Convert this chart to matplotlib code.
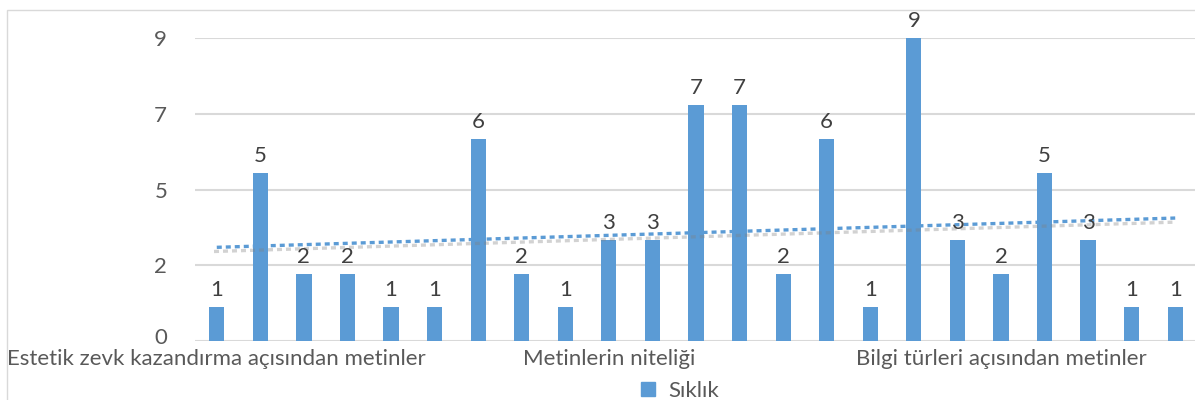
import matplotlib.pyplot as plt
import matplotlib.patheffects as pe
import matplotlib.transforms as mtransforms
from matplotlib.patches import Rectangle
import numpy as np

plt.rcParams['font.family'] = ['Lato', 'DejaVu Sans']

# data
siklik = [1, 5, 2, 2, 1, 1, 6, 2, 1, 3, 3, 7, 7, 2, 6, 1, 9, 3, 2, 5, 3, 1, 1]
group_names = ['Estetik zevk kazandırma açısından metinler',
               'Metinlerin niteliği',
               'Bilgi türleri açısından metinler']
ytick_vals = [0, 2.25, 4.5, 6.75, 9]
ytick_labels = ['0', '2', '5', '7', '9']

blue = '#5B9BD5'
grey_txt = '#595959'
grid_c = '#D9D9D9'

fig = plt.figure(figsize=(11.95, 4), dpi=100)
ax = fig.add_axes([195 / 1195, 59 / 400, 1002 / 1195, 303 / 400])

x = np.arange(len(siklik))
ax.bar(x, siklik, width=0.35, color=blue, zorder=2)

# data labels
for xi, v in zip(x, siklik):
    ax.annotate(str(v), (xi, v), xytext=(0, 5), textcoords='offset points',
                ha='center', va='bottom', fontsize=16, color='#404040',
                clip_on=False, zorder=4)

# linear trend line (dotted, with soft shadow)
k, b = np.polyfit(x, siklik, 1)
trend = k * x + b
ax.plot(x, trend, color=blue, lw=2.4, dashes=[1.5, 1.2],
        solid_capstyle='butt', dash_capstyle='butt', zorder=3,
        path_effects=[pe.SimpleLineShadow(offset=(-2, -3), shadow_color='#808080', alpha=0.35),
                      pe.Normal()])

ax.set_xlim(-0.5, len(siklik) - 0.5)
ax.set_ylim(0, 9)
ax.set_yticks(ytick_vals)
ax.set_yticklabels(ytick_labels)
ax.set_xticks(x[::9])
ax.set_xticklabels(group_names)
ax.tick_params(axis='both', length=0, labelsize=16, colors=grey_txt)
ax.tick_params(axis='y', pad=20)
ax.tick_params(axis='x', pad=6)
ax.yaxis.grid(True, color=grid_c, lw=1.5, zorder=0)
ax.set_axisbelow(True)
for s in ax.spines.values():
    s.set_visible(False)

# nudge the "0" label up a little, as in the original
zero_lbl = ax.get_yticklabels()[0]
zero_lbl.set_transform(zero_lbl.get_transform() +
                       mtransforms.ScaledTranslation(0, 5 / 100, fig.dpi_scale_trans))

# outer chart border
fig.patches.append(Rectangle((7 / 1195, -0.1), 1.2, 390 / 400 + 0.1, transform=fig.transFigure,
                             fill=False, edgecolor=grid_c, lw=1))

h = plt.Rectangle((0, 0), 1, 1, color=blue)
fig.legend([h], ['Sıklık'], loc='center', bbox_to_anchor=(680 / 1195, 9 / 400),
           frameon=False, fontsize=16, labelcolor=grey_txt,
           handlelength=0.6, handleheight=0.6, handletextpad=0.6)

fig.savefig('out.png', dpi=100)
